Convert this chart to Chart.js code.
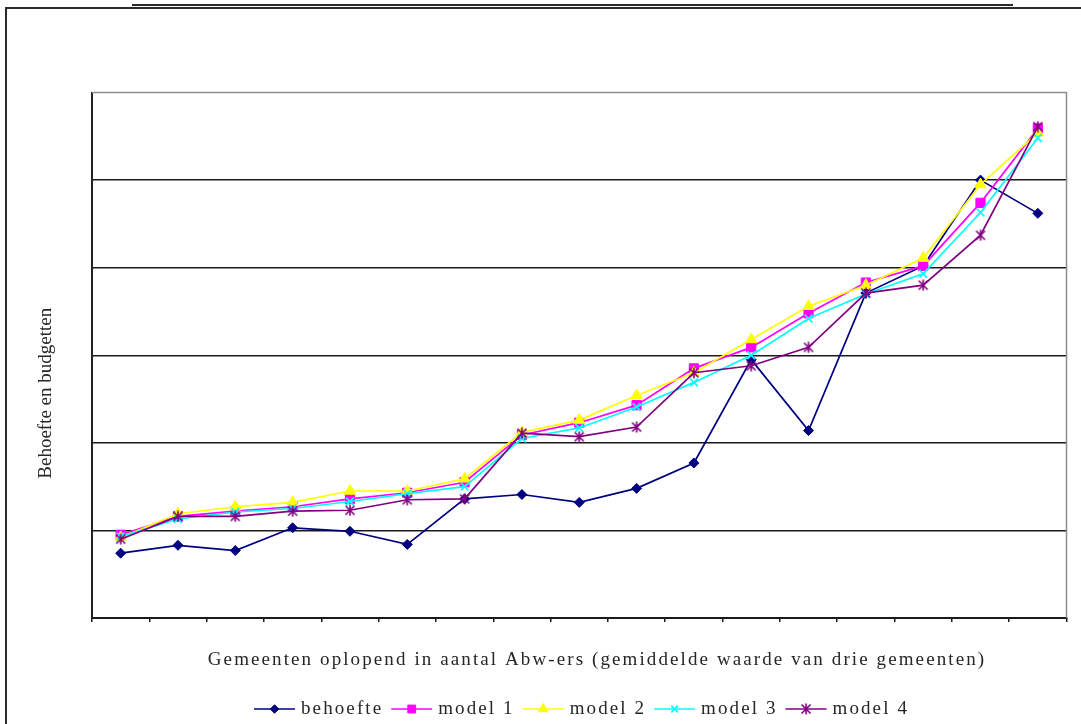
<!DOCTYPE html>
<html>
<head>
<meta charset="utf-8">
<title>Behoefte en budgetten</title>
<script src="https://cdn.jsdelivr.net/npm/chart.js@4/dist/chart.umd.min.js"></script>
<style>
  html, body { margin: 0; padding: 0; background: #ffffff; }
  canvas { display: block; }
</style>
</head>
<body>
<canvas id="chart" width="1081" height="724"></canvas>
<script>
// Gemeenten, gegroepeerd per drie en oplopend gesorteerd op aantal Abw-ers
const categories = ['1', '2', '3', '4', '5', '6', '7', '8', '9', '10', '11', '12', '13', '14', '15', '16', '17'];

// Behoefte en budgetten per groep (gemiddelde van drie gemeenten)
const behoefte = [0.74, 0.83, 0.77, 1.03, 0.99, 0.84, 1.36, 1.41, 1.32, 1.48, 1.77, 2.95, 2.14, 3.71, 4.02, 5.00, 4.62];
const model1   = [0.95, 1.16, 1.22, 1.27, 1.36, 1.43, 1.55, 2.09, 2.23, 2.43, 2.85, 3.09, 3.48, 3.83, 4.02, 4.74, 5.59];
const model2   = [0.92, 1.19, 1.27, 1.32, 1.45, 1.45, 1.59, 2.12, 2.26, 2.54, 2.80, 3.18, 3.56, 3.80, 4.11, 4.95, 5.54];
const model3   = [0.93, 1.13, 1.21, 1.25, 1.33, 1.42, 1.50, 2.05, 2.17, 2.41, 2.69, 3.00, 3.42, 3.70, 3.93, 4.63, 5.48];
const model4   = [0.90, 1.16, 1.16, 1.22, 1.23, 1.35, 1.36, 2.11, 2.07, 2.18, 2.80, 2.88, 3.09, 3.71, 3.80, 4.37, 5.61];

// Verticale as: vaste schaal met een rasterlijn per eenheid
const yTicks = [0, 1, 2, 3, 4, 5, 6];

const seriesNames = ['behoefte', 'model 1', 'model 2', 'model 3', 'model 4'];
const yTitle = 'Behoefte en budgetten';
const xTitle = 'Gemeenten oplopend in aantal Abw-ers (gemiddelde waarde van drie gemeenten)';

// ---- opmaak ----
const SERIF = '"Liberation Serif", "DejaVu Serif", serif';
const TEXT_COLOR = '#262626';

// Sterretje-marker (kruis met verticale streep)
function asteriskMarker(color, size, lw) {
  const c = document.createElement('canvas');
  c.width = size; c.height = size;
  const g = c.getContext('2d');
  g.strokeStyle = color;
  g.lineWidth = lw;
  const m = 1.5;
  g.beginPath();
  g.moveTo(m, m); g.lineTo(size - m, size - m);
  g.moveTo(size - m, m); g.lineTo(m, size - m);
  g.moveTo(size / 2, 0.5); g.lineTo(size / 2, size - 0.5);
  g.stroke();
  return c;
}

const seriesStyles = [
  { color: '#000080', fill: '#000080', pointStyle: 'rectRot',  radius: 5,   pbw: 1 },
  { color: '#FF00FF', fill: '#FF00FF', pointStyle: 'rect',     radius: 6.5, pbw: 1 },
  { color: '#FFFF00', fill: '#FFFF00', pointStyle: 'triangle', radius: 6.5, pbw: 1 },
  { color: '#00FFFF', fill: '#00FFFF', pointStyle: 'crossRot', radius: 5.5, pbw: 1.7 },
  { color: '#800080', fill: '#800080', pointStyle: asteriskMarker('#800080', 12, 1.6), radius: 6, pbw: 1.6 }
];

const seriesData = [behoefte, model1, model2, model3, model4];

const datasets = seriesData.map((data, i) => {
  const s = seriesStyles[i];
  return {
    label: seriesNames[i],
    data: data,
    borderColor: s.color,
    backgroundColor: s.fill,
    borderWidth: 1.7,
    tension: 0,
    pointStyle: s.pointStyle,
    pointRadius: s.radius,
    pointBorderWidth: s.pbw,
    pointBackgroundColor: s.fill,
    pointBorderColor: s.color,
    order: seriesNames.length - i   // latere reeksen bovenop
  };
});

// Kader, astitels en legenda (lijnstuk + marker + tekst)
const decorPlugin = {
  id: 'decor',
  beforeDraw(chart) {
    const ctx = chart.ctx;
    ctx.save();
    ctx.fillStyle = '#ffffff';
    ctx.fillRect(0, 0, chart.width, chart.height);
    ctx.restore();
  },
  afterDraw(chart) {
    const ctx = chart.ctx;
    const area = chart.chartArea;
    ctx.save();

    // buitenkader en dubbele lijn erboven
    ctx.strokeStyle = '#2a2a2a';
    ctx.lineWidth = 2;
    ctx.beginPath();
    ctx.moveTo(6, chart.height + 2);
    ctx.lineTo(6, 8);
    ctx.lineTo(chart.width + 2, 8);
    ctx.stroke();
    ctx.beginPath();
    ctx.moveTo(132, 5);
    ctx.lineTo(1013, 5);
    ctx.stroke();

    // grijze rand boven en rechts van het grafiekgebied
    ctx.strokeStyle = '#8c8c8c';
    ctx.lineWidth = 1.5;
    ctx.beginPath();
    ctx.moveTo(area.left, area.top);
    ctx.lineTo(area.right, area.top);
    ctx.lineTo(area.right, area.bottom);
    ctx.stroke();

    // titel verticale as
    ctx.fillStyle = TEXT_COLOR;
    ctx.font = '19px ' + SERIF;
    ctx.textAlign = 'center';
    ctx.textBaseline = 'middle';
    ctx.save();
    ctx.translate(46, (area.top + area.bottom) / 2 + 38);
    ctx.rotate(-Math.PI / 2);
    ctx.fillText(yTitle, 0, 0);
    ctx.restore();

    // titel horizontale as
    ctx.font = '19px ' + SERIF;
    ctx.letterSpacing = '2.1px';
    ctx.fillText(xTitle, 597, 660);

    // legenda
    const lineLen = 41, gapText = 6, gapItem = 8;
    ctx.letterSpacing = '2.1px';
    ctx.textAlign = 'left';
    const widths = seriesNames.map(n => ctx.measureText(n).width);
    const total = widths.reduce((a, w) => a + lineLen + gapText + w, 0) + gapItem * (seriesNames.length - 1);
    let x = 581.5 - total / 2;
    const ly = 709;
    const drawPoint = Chart.helpers && Chart.helpers.drawPoint;
    seriesNames.forEach((name, i) => {
      const s = seriesStyles[i];
      ctx.strokeStyle = s.color;
      ctx.lineWidth = 1.7;
      ctx.beginPath();
      ctx.moveTo(x, ly);
      ctx.lineTo(x + lineLen, ly);
      ctx.stroke();
      if (drawPoint) {
        ctx.save();
        ctx.fillStyle = s.fill;
        ctx.strokeStyle = s.color;
        ctx.lineWidth = s.pbw;
        drawPoint(ctx, { pointStyle: s.pointStyle, radius: s.radius * 0.85, rotation: 0, borderWidth: s.pbw }, x + lineLen / 2, ly);
        ctx.restore();
      }
      ctx.fillStyle = TEXT_COLOR;
      ctx.fillText(name, x + lineLen + gapText, ly);
      x += lineLen + gapText + widths[i] + gapItem;
    });
    ctx.letterSpacing = '0px';
    ctx.restore();
  }
};

new Chart(document.getElementById('chart'), {
  type: 'line',
  data: { labels: categories, datasets: datasets },
  options: {
    responsive: false,
    devicePixelRatio: 1,
    animation: false,
    events: [],
    layout: { padding: { left: 92, top: 92.5, right: 14.5, bottom: 100 } },
    plugins: {
      legend: { display: false },
      tooltip: { enabled: false },
      title: { display: false }
    },
    scales: {
      x: {
        type: 'category',
        offset: true,
        grid: {
          offset: true,
          drawOnChartArea: false,
          drawTicks: true,
          tickLength: 4,
          color: '#1a1a1a',
          lineWidth: 1.5
        },
        border: { display: true, color: '#1a1a1a', width: 2 },
        ticks: { display: false },
        afterFit(scale) { scale.height = 6; }
      },
      y: {
        min: yTicks[0],
        max: yTicks[yTicks.length - 1],
        afterBuildTicks(scale) { scale.ticks = yTicks.map(v => ({ value: v })); },
        grid: {
          drawTicks: false,
          color: c => (c.tick && c.tick.value === yTicks[yTicks.length - 1]) ? 'rgba(0,0,0,0)' : '#1a1a1a',
          lineWidth: 1.5
        },
        border: { display: true, color: '#222222', width: 2 },
        ticks: { display: false },
        afterFit(scale) { scale.width = 0; }
      }
    }
  },
  plugins: [decorPlugin]
});
</script>
</body>
</html>
